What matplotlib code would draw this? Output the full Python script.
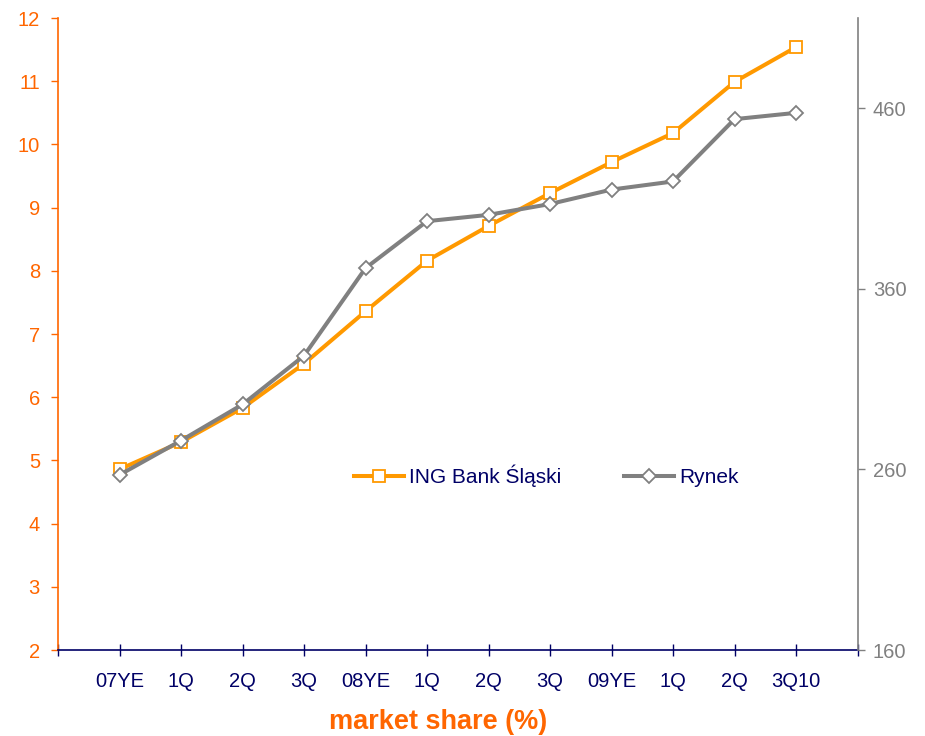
import matplotlib
matplotlib.use("Agg")
import matplotlib.pyplot as plt

quarters = ["07YE", "1Q", "2Q", "3Q", "08YE", "1Q", "2Q", "3Q", "09YE", "1Q", "2Q", "3Q10"]
ing_share = [4.86, 5.29, 5.83, 6.53, 7.36, 8.16, 8.71, 9.23, 9.72, 10.18, 10.99, 11.54]
rynek = [257, 276, 296, 323, 371.5, 397.5, 401, 407, 415, 419.5, 454, 457.5]
left_ticks = [2, 3, 4, 5, 6, 7, 8, 9, 10, 11, 12]
right_ticks = [160, 260, 360, 460]

ORANGE, AXIS_ORANGE, GREY, NAVY = "#FF9900", "#FF6600", "#808080", "#000066"
plt.rcParams["font.family"] = ["Liberation Sans", "DejaVu Sans"]

fig = plt.figure(figsize=(9.25, 7.36), dpi=100)
ax = fig.add_axes([0.0627, 0.1168, 0.8644, 0.8587])
ax2 = ax.twinx()

x = list(range(1, len(quarters) + 1))
ax.plot(x, ing_share, color=ORANGE, lw=2.9, marker="s", ms=9, mfc="white",
        mec=ORANGE, mew=1.3, label="ING Bank Śląski", zorder=3)
ax2.plot(x, rynek, color=GREY, lw=2.9, marker="D", ms=7.5, mfc="white",
         mec=GREY, mew=1.3, label="Rynek", zorder=3)

ax.set_xlim(0, len(quarters) + 1)
ax.set_ylim(2, 12)
ax2.set_ylim(160, 510)
ax.set_yticks(left_ticks)
ax2.set_yticks(right_ticks)
ax.set_xticks(range(0, len(quarters) + 2))
ax.set_xticklabels([""] + quarters + [""], fontsize=14.5, color=NAVY)

for s in ["top", "right"]:
    ax.spines[s].set_visible(False)
for s in ["top", "left"]:
    ax2.spines[s].set_visible(False)
ax.spines["left"].set_color(AXIS_ORANGE)
ax.spines["bottom"].set_color(NAVY)
ax.spines["bottom"].set_zorder(5)
ax2.spines["bottom"].set_visible(False)
ax2.spines["right"].set_color(GREY)
for sp in list(ax.spines.values()) + list(ax2.spines.values()):
    sp.set_linewidth(1.2)

ax.tick_params(axis="y", colors=AXIS_ORANGE, labelsize=14.5, length=5, width=1, pad=8)
ax.tick_params(axis="x", direction="inout", length=9, width=1, color=NAVY, pad=11)
ax2.tick_params(axis="y", colors=GREY, labelsize=14.5, length=5, width=1, pad=6)

h1, l1 = ax.get_legend_handles_labels()
h2, l2 = ax2.get_legend_handles_labels()
leg = ax2.legend(h1 + h2, l1 + l2, loc="center left", bbox_to_anchor=(0.357, 0.275),
                 ncol=2, frameon=False, fontsize=15, borderpad=0, columnspacing=3.0,
                 handlelength=2.4, handletextpad=0.25)
for t in leg.get_texts():
    t.set_color(NAVY)

fig.text(0.4735, 0.0095, "market share (%)", color=AXIS_ORANGE, fontsize=19.5,
         fontweight="bold", ha="center", va="baseline")

fig.savefig("out.png", dpi=100)
